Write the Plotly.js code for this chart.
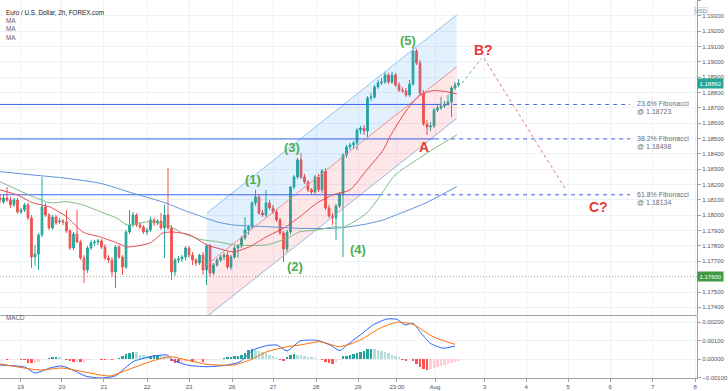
<!DOCTYPE html>
<html><head><meta charset="utf-8">
<script src="https://cdn.plot.ly/plotly-3.0.1.min.js"></script>
<style>html,body{margin:0;padding:0;background:#fff}#c{width:728px;height:391px}</style>
</head><body><div id="c"></div>
<script>
// ---- candles (2h bars, index = bar number) ----
const openP = [1.18113,1.18087,1.18113,1.18100,1.18068,1.18100,1.18022,1.18035,1.18068,1.17983,
1.17728,1.17748,1.17872,1.18054,1.18002,1.17918,1.17989,1.17957,1.17963,1.17957,
1.17898,1.17787,1.17878,1.17826,1.17722,1.17644,1.17787,1.17820,1.17826,1.17833,
1.17794,1.17722,1.17709,1.17631,1.17794,1.17728,1.17663,1.17891,1.17937,1.18002,
1.17937,1.17924,1.17891,1.17905,1.17970,1.17950,1.17963,1.17918,1.18002,1.17918,
1.17631,1.17709,1.17715,1.17728,1.17787,1.17741,1.17709,1.17689,1.17741,1.17644,
1.17800,1.17624,1.17676,1.17709,1.17728,1.17741,1.17663,1.17728,1.17787,1.17800,
1.17852,1.17905,1.17924,1.18081,1.18120,1.18015,1.18002,1.18081,1.18048,1.18022,
1.17970,1.17885,1.17781,1.17891,1.18185,1.18250,1.18361,1.18250,1.18217,1.18166,
1.18152,1.18250,1.18166,1.18289,1.18048,1.17996,1.17983,1.18061,1.18139,1.18393,
1.18446,1.18459,1.18472,1.18556,1.18569,1.18550,1.18765,1.18772,1.18837,1.18863,
1.18869,1.18915,1.18869,1.18915,1.18850,1.18817,1.18811,1.18785,1.18856,1.19071,
1.18993,1.18798,1.18596,1.18576,1.18583,1.18687,1.18700,1.18713,1.18726,1.18739,
1.18830,1.18850];
const highP = [1.18139,1.18133,1.18185,1.18120,1.18113,1.18113,1.18048,1.18081,1.18081,1.18002,
1.17807,1.17885,1.18250,1.18081,1.18015,1.18002,1.18002,1.17983,1.17976,1.18035,
1.17911,1.17891,1.18035,1.17840,1.17741,1.17800,1.17840,1.17840,1.17846,1.17846,
1.17813,1.17741,1.17728,1.17807,1.17807,1.17741,1.17905,1.18035,1.18022,1.18015,
1.17957,1.17937,1.17918,1.17989,1.17983,1.17976,1.18015,1.18068,1.18309,1.17937,
1.17722,1.17735,1.17741,1.17800,1.17800,1.17761,1.17722,1.17748,1.17761,1.17813,
1.17813,1.17689,1.17722,1.17741,1.17755,1.17761,1.17741,1.17800,1.17813,1.17865,
1.17989,1.17937,1.18094,1.18166,1.18133,1.18035,1.18166,1.18100,1.18068,1.18041,
1.17983,1.17898,1.17905,1.18191,1.18263,1.18374,1.18406,1.18270,1.18230,1.18178,
1.18263,1.18270,1.18302,1.18309,1.18068,1.18015,1.18074,1.18152,1.18406,1.18459,
1.18472,1.18485,1.18569,1.18583,1.18589,1.18778,1.18798,1.18850,1.18882,1.18895,
1.18935,1.18928,1.18935,1.18928,1.18869,1.18837,1.18830,1.18882,1.19091,1.19085,
1.19013,1.18817,1.18622,1.18609,1.18700,1.18719,1.18772,1.18745,1.18785,1.18843,
1.18869,1.18889];
const lowP = [1.18081,1.18074,1.18087,1.18048,1.18054,1.18009,1.18009,1.18022,1.17970,1.17657,
1.17670,1.17644,1.17859,1.17989,1.17905,1.17905,1.17937,1.17944,1.17937,1.17885,
1.17774,1.17774,1.17820,1.17709,1.17559,1.17624,1.17774,1.17800,1.17807,1.17781,
1.17709,1.17689,1.17598,1.17526,1.17715,1.17611,1.17650,1.17878,1.17924,1.17924,
1.17911,1.17878,1.17872,1.17891,1.17931,1.17937,1.17905,1.17722,1.17905,1.17579,
1.17605,1.17689,1.17696,1.17709,1.17722,1.17676,1.17670,1.17676,1.17611,1.17546,
1.17598,1.17611,1.17663,1.17696,1.17709,1.17650,1.17644,1.17715,1.17722,1.17787,
1.17840,1.17872,1.17911,1.18061,1.18002,1.17989,1.17989,1.18035,1.18009,1.17957,
1.17872,1.17696,1.17761,1.17878,1.18172,1.18237,1.18237,1.18204,1.18152,1.18139,
1.18139,1.18152,1.18146,1.18035,1.17983,1.17937,1.17840,1.18048,1.17728,1.18374,
1.18426,1.18439,1.18426,1.18530,1.18524,1.18511,1.18745,1.18759,1.18824,1.18850,
1.18856,1.18856,1.18856,1.18837,1.18804,1.18798,1.18772,1.18772,1.18843,1.18980,
1.18785,1.18583,1.18524,1.18550,1.18569,1.18674,1.18687,1.18700,1.18713,1.18641,
1.18817,1.18837];
const closeP = [1.18100,1.18113,1.18100,1.18068,1.18100,1.18022,1.18035,1.18068,1.17983,1.17728,
1.17748,1.17872,1.18054,1.18002,1.17918,1.17989,1.17950,1.17963,1.17957,1.17898,
1.17787,1.17878,1.17826,1.17722,1.17644,1.17787,1.17820,1.17826,1.17833,1.17794,
1.17722,1.17709,1.17631,1.17794,1.17728,1.17663,1.17891,1.17937,1.18002,1.17937,
1.17924,1.17891,1.17905,1.17970,1.17950,1.17963,1.17918,1.18002,1.17918,1.17631,
1.17709,1.17715,1.17728,1.17787,1.17741,1.17709,1.17689,1.17741,1.17644,1.17800,
1.17624,1.17676,1.17709,1.17728,1.17741,1.17663,1.17728,1.17787,1.17800,1.17852,
1.17905,1.17924,1.18081,1.18120,1.18015,1.18002,1.18081,1.18048,1.18022,1.17970,
1.17885,1.17781,1.17891,1.18185,1.18250,1.18361,1.18250,1.18217,1.18166,1.18152,
1.18250,1.18166,1.18289,1.18048,1.17996,1.17983,1.18061,1.18139,1.18393,1.18446,
1.18459,1.18472,1.18556,1.18569,1.18550,1.18765,1.18772,1.18837,1.18863,1.18869,
1.18915,1.18869,1.18915,1.18850,1.18817,1.18811,1.18785,1.18856,1.19071,1.18993,
1.18798,1.18596,1.18576,1.18583,1.18687,1.18700,1.18713,1.18726,1.18739,1.18830,
1.18850,1.18862];

// ---- moving averages, read at sample bars ----
const maRedX = [0,4.9,9.4,14.3,19.1,23.7,28.6,33.4,36.3,42.9,46.6,49.4,54.3,59.1,62.9,66.6,71.4,76.2,80.9,85.7,90.5,95.1,100,104.8,109.5,111.4,116.2,120,123.7,127.6,130.5];
const maRedY = [1.18166,1.18133,1.18081,1.18054,1.17989,1.17891,1.17859,1.17820,1.17794,1.17820,1.17885,1.17891,1.17872,1.17807,1.17781,1.17761,1.17796,1.17861,1.17915,1.17991,1.18079,1.18133,1.18166,1.18296,1.18426,1.18513,1.18687,1.18785,1.18813,1.18806,1.18791];
const maGreenX = [0,9.4,14.3,19.1,23.7,28.6,33.4,36.3,42.9,47.7,52.3,57.1,62,67.1,76.2,81.9,85.7,90.5,95.7,98.1,104.8,108.6,112.9,119,124.3,130.5];
const maGreenY = [1.18219,1.18122,1.18082,1.18089,1.18068,1.18024,1.17981,1.17937,1.17959,1.17937,1.17883,1.17844,1.17828,1.17807,1.17807,1.17850,1.17893,1.17904,1.17926,1.17922,1.18015,1.18126,1.18263,1.18361,1.18439,1.18524];
const maBlueX = [0,9.4,19.1,28.6,38,47.7,52.3,57.1,62,66.6,76.2,85.7,95.2,100,104.8,109.5,114.3,121.4,130.5];
const maBlueY = [1.18285,1.18263,1.18241,1.18209,1.18144,1.18078,1.18035,1.17996,1.17957,1.17937,1.17926,1.17915,1.17915,1.17926,1.17944,1.17970,1.18013,1.18078,1.18187];

// ---- MACD ----
const macdHist = [0.00002,0.00002,-0.00003,-0.00003,0.00002,0.00001,-0.00002,-0.00006,-0.00018,-0.00022,
-0.00020,-0.00012,-0.00005,0.00004,0.00008,0.00012,0.00012,0.00010,0.00004,-0.00002,
-0.00008,-0.00014,-0.00012,-0.00016,-0.00014,-0.00006,-0.00002,0.00002,0.00002,-0.00002,
-0.00006,-0.00003,-0.00004,0.00004,0.00008,0.00016,0.00028,0.00036,0.00040,0.00038,
0.00026,0.00024,0.00018,0.00020,0.00022,0.00026,0.00022,0.00018,0.00014,-0.00010,
-0.00020,-0.00022,-0.00018,-0.00010,-0.00008,-0.00012,-0.00012,-0.00006,-0.00012,-0.00006,
-0.00004,-0.00002,0.00002,0.00004,0.00008,0.00010,0.00014,0.00016,0.00018,0.00024,
0.00032,0.00048,0.00058,0.00050,0.00044,0.00040,0.00034,0.00026,0.00018,0.00008,
-0.00006,-0.00010,0.00010,0.00022,0.00030,0.00026,0.00022,0.00018,0.00014,0.00010,
0.00008,0.00004,-0.00004,-0.00016,-0.00022,-0.00026,-0.00014,-0.00006,0.00016,0.00020,
0.00024,0.00030,0.00036,0.00038,0.00044,0.00054,0.00058,0.00056,0.00050,0.00044,
0.00040,0.00034,0.00026,0.00018,0.00010,-0.00004,-0.00008,0.00002,-0.00010,-0.00026,
-0.00042,-0.00054,-0.00058,-0.00052,-0.00046,-0.00042,-0.00036,-0.00030,-0.00024,-0.00018,
-0.00012,-0.00008];
const macdX = [0,7.1,10,14.3,17.7,21.4,24.3,28.6,32.9,35.1,38,42.9,47.7,49.4,53.4,59.1,64.9,68.6,72.3,76.3,79.1,82,83.7,85.7,89.4,91.4,94.3,97.1,99.1,102.9,106.6,110.6,113.4,115.7,118,120,122.9,126.6,130];
const macdY = [-0.00031,-0.00042,-0.00074,-0.00047,-0.00036,-0.00063,-0.00090,-0.00101,-0.00090,-0.00058,-0.00013,0.00014,0.00023,-0.00004,-0.00031,-0.00040,-0.00031,-0.00013,0.00050,0.00074,0.00077,0.00045,0.00068,0.00099,0.00104,0.00099,0.00077,0.00047,0.00077,0.00131,0.00186,0.00218,0.00216,0.00186,0.00195,0.00149,0.00087,0.00060,0.00072];
const signalX = [0,11.4,17.7,24.3,31.4,36.3,42.9,48.6,53.4,59.1,66.6,71.4,76.3,82,85.7,91.4,97.1,102.9,108.6,113.4,118,123.7,130];
const signalY = [-0.00025,-0.00058,-0.00047,-0.00069,-0.00090,-0.00058,-0.00013,0.00014,-0.00004,-0.00027,-0.00031,-0.00004,0.00041,0.00068,0.00077,0.00095,0.00068,0.00104,0.00168,0.00200,0.00189,0.00122,0.00081];

// ---- drawings ----
const channelX = [59.06,130.5];
const channelUpper = [1.18014,1.19307];
const channelMid = [1.17677,1.18969];
const channelLower = [1.17339,1.18632];
const fibLevels = [1.18723,1.18498,1.18134];
const fibNames = ['23.6% Fibonacci','38.2% Fibonacci','61.8% Fibonacci'];
const fibSolidEnd = [124.9,124.3,108.3];
const fibDashEnd = 180;
const supportLevel = 1.17600;
const lastPrice = 1.18862;
const priceTicks = [1.174,1.175,1.177,1.178,1.179,1.180,1.181,1.182,1.183,1.184,1.185,1.186,1.187,1.188,1.189,1.190,1.191,1.192,1.193,1.194];
const macdTicks = [-0.001,0,0.001,0.002];
const waveText = ['(1)','(2)','(3)','(4)','(5)'];
const waveX = [72.4,84.3,83.3,102.4,116.5];
const waveY = [1.18231,1.17665,1.18444,1.17779,1.19139];
const corrText = ['A','B?','C?'];
const corrX = [121.1,138,170.9];
const corrY = [1.18444,1.19078,1.18055];
const projGreenX = [132,137.6], projGreenY = [1.18862,1.19024];
const projRedX = [138.3,161.7], projRedY = [1.19024,1.18166];
const tickIdx = [5.9,17.7,29.7,42,54,66.3,78,90.3,102.3,113.4,124.3,138.5,150.3,162.3,174.3,186.5,198.6];
const tickText = ['19','20','21','22','23','26','27','28','29','23:00','Aug','3','4','5','6','7','8'];

// ---- build ----
const bars = closeP.map((_, i) => i);
const XMAX = 199.14;
const traces = [];
traces.push({x:[channelX[0],channelX[1],channelX[1],channelX[0],channelX[0]],
  y:[channelUpper[0],channelUpper[1],channelMid[1],channelMid[0],channelUpper[0]],
  type:'scatter',mode:'lines',fill:'toself',fillcolor:'rgba(33,150,243,0.13)',line:{width:0},hoverinfo:'skip',xaxis:'x',yaxis:'y'});
traces.push({x:[channelX[0],channelX[1],channelX[1],channelX[0],channelX[0]],
  y:[channelMid[0],channelMid[1],channelLower[1],channelLower[0],channelMid[0]],
  type:'scatter',mode:'lines',fill:'toself',fillcolor:'rgba(242,54,69,0.12)',line:{width:0},hoverinfo:'skip',xaxis:'x',yaxis:'y'});
traces.push({x:channelX,y:channelUpper,type:'scatter',mode:'lines',line:{color:'#8ec3f2',width:1},hoverinfo:'skip'});
traces.push({x:channelX,y:channelMid,type:'scatter',mode:'lines',line:{color:'#ef8f8f',width:1},hoverinfo:'skip'});
traces.push({x:channelX,y:channelLower,type:'scatter',mode:'lines',line:{color:'#9fb3dc',width:1},hoverinfo:'skip'});
fibLevels.forEach((lv, k) => {
  traces.push({x:[0,fibSolidEnd[k]],y:[lv,lv],type:'scatter',mode:'lines',line:{color:'#3d63f0',width:1},hoverinfo:'skip'});
  traces.push({x:[fibSolidEnd[k],fibDashEnd],y:[lv,lv],type:'scatter',mode:'lines',line:{color:'#3d63f0',width:1,dash:'4px,4px'},hoverinfo:'skip'});
});
traces.push({x:[0,XMAX],y:[supportLevel,supportLevel],type:'scatter',mode:'lines',line:{color:'#9aa09a',width:1,dash:'1px,2px'},hoverinfo:'skip'});
traces.push({x:maBlueX,y:maBlueY,type:'scatter',mode:'lines',line:{color:'#5e93d8',width:1,shape:'spline',smoothing:0.6},hoverinfo:'skip'});
traces.push({x:maGreenX,y:maGreenY,type:'scatter',mode:'lines',line:{color:'#7dbb7f',width:1,shape:'spline',smoothing:0.6},hoverinfo:'skip'});
traces.push({x:maRedX,y:maRedY,type:'scatter',mode:'lines',line:{color:'#e5484d',width:1,shape:'spline',smoothing:0.6},hoverinfo:'skip'});
traces.push({type:'candlestick',x:bars,open:openP,high:highP,low:lowP,close:closeP,
  increasing:{line:{color:'#26a69a',width:1},fillcolor:'#26a69a'},
  decreasing:{line:{color:'#ef5350',width:1},fillcolor:'#ef5350'},
  whiskerwidth:0,hoverinfo:'skip',xaxis:'x',yaxis:'y'});
traces.push({x:projGreenX,y:projGreenY,type:'scatter',mode:'lines',line:{color:'#66bb6a',width:1,dash:'3px,3px'},hoverinfo:'skip'});
traces.push({x:projRedX,y:projRedY,type:'scatter',mode:'lines',line:{color:'#e57373',width:1,dash:'3px,3px'},hoverinfo:'skip'});
const histColors = macdHist.map((h, i) => {
  const p = i > 0 ? macdHist[i-1] : 0;
  if (h >= 0) return h >= p ? '#26a69a' : '#b2dfdb';
  return h < p ? '#ff5252' : '#ffcdd2';
});
traces.push({type:'bar',x:bars,y:macdHist,marker:{color:histColors,line:{width:0}},width:0.85,xaxis:'x',yaxis:'y2',hoverinfo:'skip'});
traces.push({x:macdX,y:macdY,type:'scatter',mode:'lines',line:{color:'#2962ff',width:1,shape:'spline',smoothing:0.6},xaxis:'x',yaxis:'y2',hoverinfo:'skip'});
traces.push({x:signalX,y:signalY,type:'scatter',mode:'lines',line:{color:'#ff6d00',width:1,shape:'spline',smoothing:0.6},xaxis:'x',yaxis:'y2',hoverinfo:'skip'});

const PW = 697/728;
const F = 'Liberation Sans, Arial';
const annotations = [];
waveText.forEach((t,k)=>annotations.push({x:waveX[k],y:waveY[k],xref:'x',yref:'y',text:'<b>'+t+'</b>',showarrow:false,font:{family:F,size:13,color:'#4caf50'}}));
corrText.forEach((t,k)=>annotations.push({x:corrX[k],y:corrY[k],xref:'x',yref:'y',text:'<b>'+t+'</b>',showarrow:false,font:{family:F,size:14,color:'#e53935'}}));
fibLevels.forEach((lv,k)=>{
  annotations.push({x:181.8,y:lv,xref:'x',yref:'y',xanchor:'left',yanchor:'bottom',yshift:-4,text:fibNames[k],showarrow:false,borderpad:0,font:{family:F,size:7,color:'#6a6d78'}});
  annotations.push({x:181.8,y:lv,xref:'x',yref:'y',xanchor:'left',yanchor:'top',yshift:-3,text:'@ '+lv.toFixed(5),showarrow:false,borderpad:0,font:{family:F,size:7,color:'#6a6d78'}});
});
annotations.push({x:PW,y:lastPrice,xref:'paper',yref:'y',xanchor:'left',yanchor:'middle',text:lastPrice.toFixed(5),showarrow:false,bgcolor:'#26a69a',font:{family:F,size:6,color:'#fff'},borderpad:1.5});
annotations.push({x:PW,y:supportLevel,xref:'paper',yref:'y',xanchor:'left',yanchor:'middle',text:supportLevel.toFixed(5),showarrow:false,bgcolor:'#3f9a44',font:{family:F,size:6,color:'#fff'},borderpad:1.5});
annotations.push({x:0.972,y:1-7/378,xref:'paper',yref:'paper',text:'USD',showarrow:false,bordercolor:'#c8cbd3',borderwidth:0.6,borderpad:0.5,font:{family:F,size:5.5,color:'#787b86'}});
annotations.push({x:4/728,y:1-7/378,xref:'paper',yref:'paper',xanchor:'left',text:'Euro / U.S. Dollar, 2h, FOREX.com',showarrow:false,font:{family:F,size:6.3,color:'#131722'}});
['MA','MA','MA'].forEach((t,k)=>annotations.push({x:4/728,y:1-(15+8.3*k)/378,xref:'paper',yref:'paper',xanchor:'left',text:t,showarrow:false,font:{family:F,size:6.3,color:'#5d606b'}}));
annotations.push({x:4/728,y:1-323/378,xref:'paper',yref:'paper',xanchor:'left',text:'MACD',showarrow:false,font:{family:F,size:6.3,color:'#5d606b'}});

const layout = {
  width:728,height:391,margin:{l:0,r:0,t:0,b:13},
  paper_bgcolor:'#fff',plot_bgcolor:'#fff',showlegend:false,
  font:{family:F,size:6,color:'#50535e'},
  xaxis:{domain:[0,PW],range:[0,XMAX],anchor:'y2',tickmode:'array',tickvals:tickIdx,ticktext:tickText,
    showgrid:true,gridcolor:'#eef1f6',gridwidth:1,zeroline:false,showline:true,linecolor:'#a0a3ab',
    ticks:'outside',ticklen:3,tickcolor:'#a0a3ab',tickfont:{size:6,color:'#50535e'},rangeslider:{visible:false},fixedrange:true},
  yaxis:{domain:[1-315/378,1],range:[1.17350,1.19404],side:'right',anchor:'x',tickmode:'array',tickvals:priceTicks,tickformat:'.5f',
    showgrid:true,gridcolor:'#eef1f6',zeroline:false,showline:true,linecolor:'#a0a3ab',ticks:'outside',ticklen:3,tickcolor:'#a0a3ab',
    tickfont:{size:6,color:'#50535e'},fixedrange:true},
  yaxis2:{domain:[0,(378-316)/378],range:[-0.00101,0.00234],side:'right',anchor:'x',tickmode:'array',tickvals:macdTicks,tickformat:'.5f',
    showgrid:true,gridcolor:'#eef1f6',zeroline:false,showline:true,linecolor:'#a0a3ab',ticks:'outside',ticklen:3,tickcolor:'#a0a3ab',
    tickfont:{size:6,color:'#50535e'},fixedrange:true},
  shapes:[{type:'line',xref:'paper',yref:'paper',x0:0,x1:PW,y0:1-315.5/378,y1:1-315.5/378,line:{color:'#a0a3ab',width:1}}],
  annotations:annotations,
  bargap:0
};
Plotly.newPlot('c',traces,layout,{staticPlot:true,displayModeBar:false});
</script></body></html>
